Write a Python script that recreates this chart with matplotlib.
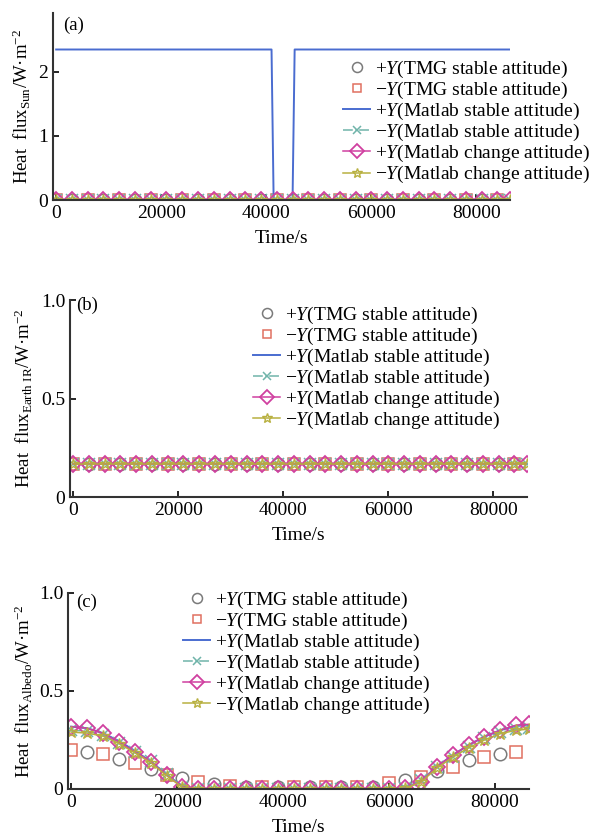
import numpy as np
import matplotlib
matplotlib.use("Agg")
import matplotlib.pyplot as plt

plt.rcParams['font.family'] = ['Liberation Serif', 'DejaVu Serif']
plt.rcParams['mathtext.fontset'] = 'custom'
plt.rcParams['mathtext.rm'] = 'Liberation Serif'
plt.rcParams['mathtext.it'] = 'Liberation Serif:italic'

# ---- data ----
# Matlab curves sampled every 3000 s, last point at 86400 s
t_mat = [0, 3000, 6000, 9000, 12000, 15000, 18000, 21000, 24000, 27000,
         30000, 33000, 36000, 39000, 42000, 45000, 48000, 51000, 54000, 57000,
         60000, 63000, 66000, 69000, 72000, 75000, 78000, 81000, 84000, 86400]
# TMG points
t_tmg_p = [3000, 9000, 15000, 21000, 27000, 33000, 39000, 45000, 51000, 57000,
           63000, 69000, 75000, 81000]
t_tmg_m = [0, 6000, 12000, 18000, 24000, 30000, 36000, 42000, 48000, 54000,
           60000, 66000, 72000, 78000, 84000]

# (a) sun
sun_t = [0, 41000, 41400, 45000, 45400, 86400]
sun_plus_stable = [2.35, 2.35, 0.0, 0.0, 2.35, 2.35]
sun_zero_mat = [0.0] * len(t_mat)
sun_tmg_p = [0.0] * len(t_tmg_p)
sun_tmg_m = [0.0] * len(t_tmg_m)

# (b) earth IR
ir_mat = [0.17] * len(t_mat)
ir_tmg_p = [0.17] * len(t_tmg_p)
ir_tmg_m = [0.17] * len(t_tmg_m)

# (c) albedo
alb_plus_stable = [0.318, 0.31, 0.285, 0.245, 0.195, 0.14, 0.075, 0.012, 0, 0,
                   0, 0, 0, 0, 0, 0, 0, 0, 0, 0,
                   0, 0.004, 0.04, 0.114, 0.173, 0.224, 0.267, 0.30, 0.322, 0.325]
alb_minus_stable = [0.30, 0.295, 0.275, 0.235, 0.19, 0.145, 0.075, 0.01, 0, 0,
                    0, 0, 0, 0, 0, 0, 0, 0, 0, 0,
                    0, 0.004, 0.045, 0.11, 0.165, 0.215, 0.258, 0.29, 0.305, 0.31]
alb_plus_change = [0.318, 0.31, 0.284, 0.24, 0.19, 0.14, 0.07, 0.01, 0, 0,
                   0, 0, 0, 0, 0, 0, 0, 0, 0, 0,
                   0, 0.003, 0.037, 0.114, 0.173, 0.224, 0.267, 0.30, 0.326, 0.33]
alb_minus_change = [0.29, 0.285, 0.27, 0.232, 0.185, 0.135, 0.068, 0.008, 0, 0,
                    0, 0, 0, 0, 0, 0, 0, 0, 0, 0,
                    0, 0.003, 0.035, 0.106, 0.162, 0.21, 0.25, 0.282, 0.30, 0.305]
alb_tmg_p = [0.19, 0.155, 0.10, 0.055, 0.025, 0.01, 0.008, 0.008, 0.008, 0.012,
             0.046, 0.09, 0.148, 0.178]
alb_tmg_m = [0.20, 0.18, 0.135, 0.07, 0.037, 0.014, 0.01, 0.01, 0.01, 0.012,
             0.032, 0.063, 0.114, 0.165, 0.19]

labels = ['+$Y$(TMG stable attitude)', '\u2212$Y$(TMG stable attitude)',
          '+$Y$(Matlab stable attitude)', '\u2212$Y$(Matlab stable attitude)',
          '+$Y$(Matlab change attitude)', '\u2212$Y$(Matlab change attitude)']

c_circ = '#7a7a7a'
c_sq = '#e07060'
c_blue = '#4a6cd0'
c_teal = '#70b4aa'
c_mag = '#d040a0'
c_star = '#b8b040'


def panel(ax, tp, yp, tm, ym, tl, yl, y_ms, y_pc, y_mc, ylab, tag, leg_anchor):
    ax.plot(tp, yp, 'o', ms=9, mfc='none', mec=c_circ, mew=1.1, label=labels[0])
    ax.plot(tm, ym, 's', ms=8, mfc='none', mec=c_sq, mew=1.1, label=labels[1])
    ax.plot(tl, yl, '-', color=c_blue, lw=1.4, label=labels[2])
    ax.plot(t_mat, y_ms, '-.', color=c_teal, lw=1.1, marker='x', ms=8, mew=1.1,
            label=labels[3])
    ax.plot(t_mat, y_pc, '-', color=c_mag, lw=1.1, marker='D', ms=8.5, mfc='none',
            mew=1.3, label=labels[4])
    ax.plot(t_mat, y_mc, '-', color=c_star, lw=1.1, marker='*', ms=9, mfc='none',
            mew=1.0, label=labels[5])
    ax.set_xlim(-600, 86400)
    ax.set_xticks([0, 20000, 40000, 60000, 80000])
    ax.spines['top'].set_visible(False)
    ax.spines['right'].set_visible(False)
    for s in ['left', 'bottom']:
        ax.spines[s].set_linewidth(1.5)
        ax.spines[s].set_color('#333333')
    ax.tick_params(direction='in', labelsize=14, length=4, width=1.2)
    ax.set_xlabel('Time/s', fontsize=14, labelpad=6)
    ax.set_ylabel(ylab, fontsize=13.5)
    ax.text(tag[1], tag[2], tag[0], transform=ax.transAxes, fontsize=13.5,
            ha='left', va='center')
    fig.legend(*ax.get_legend_handles_labels(), loc='upper left',
               bbox_to_anchor=leg_anchor, frameon=False, fontsize=14,
               borderpad=0, borderaxespad=0, handlelength=1.4,
               handletextpad=0.25, labelspacing=0.0, numpoints=1,
               markerscale=0.8)


fig = plt.figure(figsize=(5.97, 8.38), dpi=100)

ax1 = fig.add_axes([0.0888, 0.7613, 0.7655, 0.2232])
panel(ax1, t_tmg_p, sun_tmg_p, t_tmg_m, sun_tmg_m, sun_t, sun_plus_stable,
      sun_zero_mat, sun_zero_mat, sun_zero_mat,
      'Heat  flux$_{\\mathrm{Sun}}$/W\u00b7m$^{-2}$', ('(a)', 0.022, 0.936),
      (0.5745, 0.930))
ax1.set_ylim(0, 2.92)
ax1.set_yticks([0, 1, 2])
ax1.yaxis.set_label_coords(-0.043, 0.5)

ax2 = fig.add_axes([0.1173, 0.4069, 0.7655, 0.2351])
panel(ax2, t_tmg_p, ir_tmg_p, t_tmg_m, ir_tmg_m, t_mat, ir_mat,
      ir_mat, ir_mat, ir_mat,
      'Heat  flux$_{\\mathrm{Earth\\ IR}}$/W\u00b7m$^{-2}$', ('(b)', 0.013, 0.975),
      (0.4238, 0.6367))
ax2.set_ylim(0, 1)
ax2.set_yticks([0, 0.5, 1.0])
ax2.set_yticklabels(['0', '0.5', '1.0'])
ax2.yaxis.set_label_coords(-0.076, 0.5)

ax3 = fig.add_axes([0.1139, 0.0585, 0.7722, 0.2339])
panel(ax3, t_tmg_p, alb_tmg_p, t_tmg_m, alb_tmg_m, t_mat, alb_plus_stable,
      alb_minus_stable, alb_plus_change, alb_minus_change,
      'Heat  flux$_{\\mathrm{Albedo}}$/W\u00b7m$^{-2}$', ('(c)', 0.017, 0.95),
      (0.3065, 0.2964))
ax3.set_ylim(0, 1)
ax3.set_yticks([0, 0.5, 1.0])
ax3.set_yticklabels(['0', '0.5', '1.0'])
ax3.yaxis.set_label_coords(-0.071, 0.5)

fig.savefig('out.png', dpi=100)
